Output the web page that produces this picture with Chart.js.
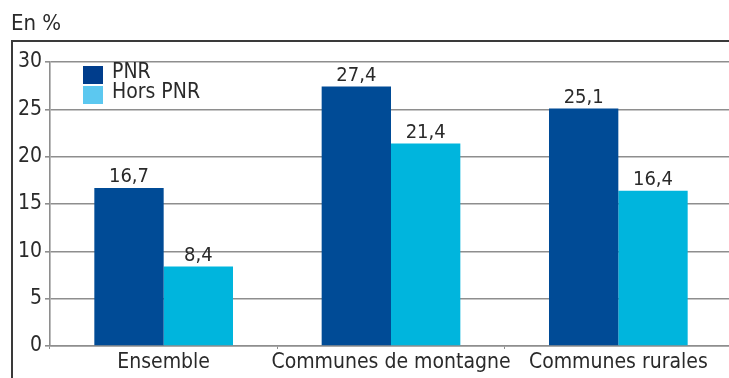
<!DOCTYPE html>
<html>
<head>
<meta charset="utf-8">
<script src="https://cdn.jsdelivr.net/npm/chart.js@4/dist/chart.umd.min.js"></script>
<style>
  html, body { margin: 0; padding: 0; background: #fff; overflow: hidden; }
  #wrap { position: relative; width: 732px; height: 378px; }
</style>
</head>
<body>
<div id="wrap"><canvas id="bar_pnr"></canvas></div>
<script>
const categories = ['Ensemble', 'Communes de montagne', 'Communes rurales'];
const pnrValues = [16.7, 27.4, 25.1];
const horsPnrValues = [8.4, 21.4, 16.4];
const yTicks = [0, 5, 10, 15, 20, 25, 30];

const FONT = "'Liberation Sans Narrow', 'DejaVu Sans Condensed', sans-serif";
const TEXT = '#2a2a2a';
const GRID = '#8e8e8e';
const legendColors = ['#003d8c', '#5cc8f0'];

const fmt = v => v.toFixed(1).replace('.', ',');

// frame, title, legend and value labels
const decor = {
    id: 'decor',
    afterDraw(chart) {
        const ctx = chart.ctx;
        ctx.save();
        ctx.strokeStyle = '#3a3a3a';
        ctx.lineWidth = 2;
        ctx.strokeRect(12, 41, chart.width + 20, chart.height + 20);

        ctx.fillStyle = TEXT;
        ctx.font = '22px ' + FONT;
        ctx.textAlign = 'left';
        ctx.textBaseline = 'middle';
        ctx.fillText('En %', 11, 24);

        // legend
        ctx.font = '21px ' + FONT;
        chart.data.datasets.forEach((ds, i) => {
            const y = 66 + i * 20;
            ctx.fillStyle = legendColors[i];
            ctx.fillRect(83, y, 20, 18);
            ctx.fillStyle = TEXT;
            ctx.fillText(ds.label, 112, y + 7);
        });

        // values above bars
        ctx.font = '20px ' + FONT;
        ctx.textAlign = 'center';
        ctx.textBaseline = 'bottom';
        chart.data.datasets.forEach((ds, i) => {
            chart.getDatasetMeta(i).data.forEach((bar, j) => {
                ctx.fillText(fmt(ds.data[j]), bar.x, bar.y - 1);
            });
        });
        ctx.restore();
    }
};

new Chart(document.getElementById('bar_pnr'), {
    type: 'bar',
    data: {
        labels: categories,
        datasets: [
            {
                label: 'PNR',
                data: pnrValues,
                backgroundColor: '#004b96',
                categoryPercentage: 0.61,
                barPercentage: 1.0
            },
            {
                label: 'Hors PNR',
                data: horsPnrValues,
                backgroundColor: '#00b5dd',
                categoryPercentage: 0.61,
                barPercentage: 1.0
            }
        ]
    },
    options: {
        responsive: true,
        maintainAspectRatio: false,
        animation: false,
        layout: { padding: { top: 62, left: 0, right: 0, bottom: 0 } },
        scales: {
            y: {
                min: 0,
                max: 30,
                afterBuildTicks: s => { s.ticks = yTicks.map(v => ({ value: v })); },
                afterFit: s => { s.width = 50; },
                grid: { color: GRID, lineWidth: 1.6, tickLength: 5 },
                border: { color: GRID, width: 1.6 },
                ticks: {
                    color: TEXT,
                    padding: 3,
                    font: { family: FONT, size: 21 }
                }
            },
            x: {
                afterFit: s => { s.height = 32; },
                grid: { drawOnChartArea: false, offset: true, color: GRID, tickLength: 3 },
                border: { color: GRID, width: 1.6 },
                ticks: {
                    color: TEXT,
                    padding: 1,
                    autoSkip: false,
                    minRotation: 0,
                    maxRotation: 0,
                    font: { family: FONT, size: 21 }
                }
            }
        },
        plugins: {
            legend: { display: false },
            tooltip: { enabled: false }
        }
    },
    plugins: [decor]
});
</script>
</body>
</html>
